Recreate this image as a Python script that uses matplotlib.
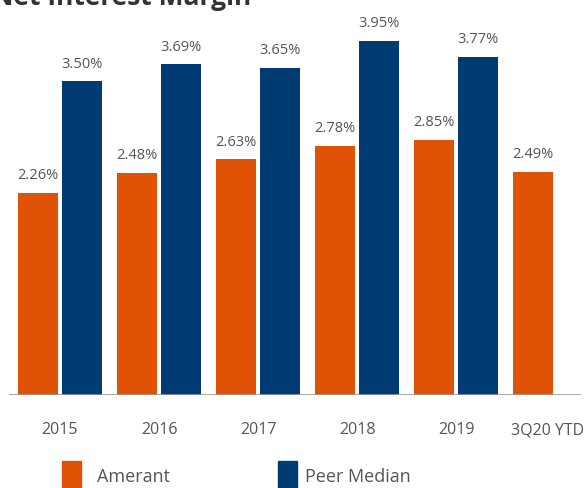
import matplotlib.pyplot as plt
import numpy as np
from matplotlib.patches import Rectangle

plt.rcParams['font.family'] = ['Open Sans', 'DejaVu Sans']

categories = ['2015', '2016', '2017', '2018', '2019', '3Q20 YTD']
amerant = [2.26, 2.48, 2.63, 2.78, 2.85, 2.49]
peer_median = [3.50, 3.69, 3.65, 3.95, 3.77, None]

orange = '#E05206'
navy = '#003B73'
grey = '#555555'

fig = plt.figure(figsize=(5.88, 4.89), dpi=100)
ax = fig.add_axes([0, 0.19, 1, 0.81])

x = np.arange(len(categories))
w = 0.395
off = 0.222

for i, v in enumerate(amerant):
    ax.bar(x[i] - off, v, w, color=orange)
    ax.text(x[i] - off, v + 0.12, f'{v:.2f}%', ha='center', va='bottom',
            fontsize=10.5, color=grey)
for i, v in enumerate(peer_median):
    if v is None:
        continue
    ax.bar(x[i] + off, v, w, color=navy)
    ax.text(x[i] + off, v + 0.12, f'{v:.2f}%', ha='center', va='bottom',
            fontsize=10.5, color=grey)

ax.set_xlim(-0.606, 5.333)
ax.set_ylim(0, 4.42)
ax.axhline(0, xmin=0.017, xmax=0.986, color='#999999', lw=1.2)
for s in ax.spines.values():
    s.set_visible(False)
ax.set_yticks([])
# last label is nudged left so it stays inside the figure
tick_pos = x.astype(float)
tick_pos[-1] -= 0.08
ax.set_xticks(tick_pos)
ax.set_xticklabels(categories, fontsize=11.5, color=grey)
ax.tick_params(axis='x', length=0, pad=19)

# title sits partly off the top edge
fig.text(-0.014, 1.005, 'Net Interest Margin', fontsize=19, fontweight='bold',
         color='#333333', ha='left', va='center')

# legend
fig.patches.append(Rectangle((62 / 588, 0), 19 / 588, 27 / 489,
                             transform=fig.transFigure, color=orange))
fig.text(97 / 588, 12 / 489, 'Amerant', fontsize=13, color=grey, va='center')
fig.patches.append(Rectangle((278 / 588, 0), 19 / 588, 27 / 489,
                             transform=fig.transFigure, color=navy))
fig.text(305 / 588, 12 / 489, 'Peer Median', fontsize=13, color=grey, va='center')

fig.savefig('out.png', dpi=100)
